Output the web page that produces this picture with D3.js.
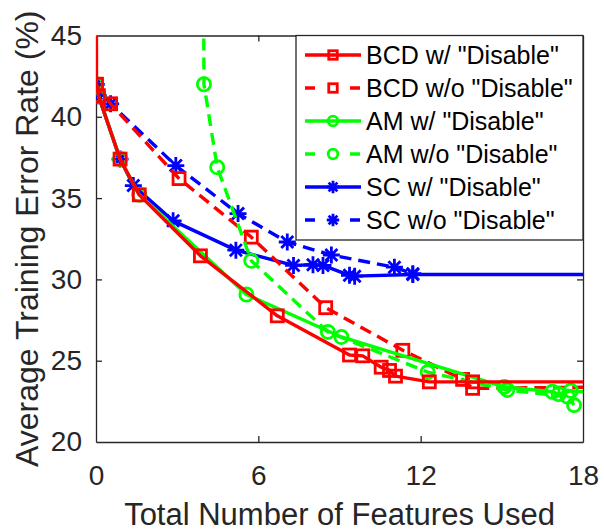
<!DOCTYPE html>
<html>
<head>
<meta charset="utf-8">
<script src="https://cdn.jsdelivr.net/npm/d3@7"></script>
<style>
  html, body { margin: 0; padding: 0; background: #fff; }
  svg { display: block; font-family: "Liberation Sans", Arial, Helvetica, sans-serif; }
</style>
</head>
<body>
<svg id="chart" width="604" height="531"></svg>
<script>
// Average training error rate vs. number of features used
const xTicks = [0, 6, 12, 18];
const yTicks = [20, 25, 30, 35, 40, 45];

// [features used, error rate %]
const bcdWith = [[0, 60], [0.02, 42.0], [0.09, 41.3], [0.89, 37.4], [1.6, 35.2], [3.86, 31.45],
  [6.7, 27.76], [9.37, 25.35], [9.86, 25.3], [10.54, 24.6], [10.85, 24.4], [11.07, 24.05],
  [12.32, 23.7], [13.92, 23.7], [20, 23.7]];
const bcdWithout = [[0, 42.0], [0.54, 40.8], [3.07, 36.2], [5.74, 32.6], [8.49, 28.26],
  [11.34, 25.64], [13.55, 23.85], [13.92, 23.3], [20, 23.4]];
const amWith = [[0, 42.0], [0.09, 41.3], [0.89, 37.4], [1.6, 35.2], [5.56, 29.07], [9.07, 26.46],
  [15.09, 23.39], [16.87, 23.09], [17.1, 22.95], [17.55, 23.15], [20, 22.8]];
const amWithout = [[3.95, 60], [3.99, 42.0], [4.48, 36.9], [5.74, 31.15], [8.57, 26.77],
  [12.26, 24.3], [15.2, 23.2], [17.43, 22.8], [17.67, 22.27]];
const scWith = [[0, 42.0], [0.09, 41.3], [0.89, 37.4], [1.38, 35.77], [2.85, 33.6], [5.17, 31.8],
  [7.3, 30.86], [8.02, 30.9], [8.39, 30.86], [9.37, 30.25], [9.56, 30.2], [11.71, 30.3], [20, 30.3]];
const scWithout = [[0, 42.0], [0.54, 40.8], [2.95, 37.0], [5.25, 34.05], [7.07, 32.3], [8.7, 31.5],
  [11.03, 30.75], [11.71, 30.35]];

const seriesNames = ['BCD w/ "Disable"', 'BCD w/o "Disable"', 'AM w/ "Disable"',
  'AM w/o "Disable"', 'SC w/ "Disable"', 'SC w/o "Disable"'];
const seriesData = [bcdWith, bcdWithout, amWith, amWithout, scWith, scWithout];
const seriesColors = ["#ff0000", "#ff0000", "#00ff00", "#00ff00", "#0000ff", "#0000ff"];
const seriesMarkers = ["square", "square", "circle", "circle", "star", "star"];
const seriesDashed = [false, true, false, true, false, true];
// back-to-front drawing order
const drawOrder = [5, 4, 1, 3, 2, 0];

const svg = d3.select("#chart");
const W = 604, H = 531;
const margin = { left: 96, top: 35.5, right: 21, bottom: 89 };
const x = d3.scaleLinear().domain([0, 18]).range([margin.left, W - margin.right]);
const y = d3.scaleLinear().domain([20, 45]).range([H - margin.bottom, margin.top]);
const axisColor = "#262626";

svg.append("defs").append("clipPath").attr("id", "plotClip")
  .append("rect")
  .attr("x", x(0)).attr("y", y(45))
  .attr("width", x(18) - x(0)).attr("height", y(20) - y(45));

// axes with inward ticks on all four sides
const tickLen = 6;
const gx = svg.append("g").attr("transform", `translate(0,${y(20)})`)
  .call(d3.axisBottom(x).tickValues(xTicks).tickSizeInner(-tickLen).tickSizeOuter(0).tickPadding(23));
const gxTop = svg.append("g").attr("transform", `translate(0,${y(45)})`)
  .call(d3.axisTop(x).tickValues(xTicks).tickSizeInner(-tickLen).tickSizeOuter(0).tickFormat(""));
const gy = svg.append("g").attr("transform", `translate(${x(0)},0)`)
  .call(d3.axisLeft(y).tickValues(yTicks).tickSizeInner(-tickLen).tickSizeOuter(0).tickPadding(14));
const gyRight = svg.append("g").attr("transform", `translate(${x(18)},0)`)
  .call(d3.axisRight(y).tickValues(yTicks).tickSizeInner(-tickLen).tickSizeOuter(0).tickFormat(""));

[gx, gxTop, gy, gyRight].forEach(g => {
  g.select(".domain").attr("stroke", axisColor).attr("stroke-width", 1.3);
  g.selectAll(".tick line").attr("stroke", axisColor).attr("stroke-width", 1.3);
  g.selectAll(".tick text").attr("fill", axisColor)
    .attr("font-size", 28).attr("font-family", "Liberation Sans, Arial, sans-serif");
});
gx.selectAll(".tick line").filter(d => d === 0 || d === 18).remove();
gxTop.selectAll(".tick line").filter(d => d === 0 || d === 18).remove();
gy.selectAll(".tick line").filter(d => d === 20 || d === 45).remove();
gyRight.selectAll(".tick line").filter(d => d === 20 || d === 45).remove();

// axis titles
svg.append("text")
  .attr("x", (x(0) + x(18)) / 2).attr("y", 525)
  .attr("text-anchor", "middle").attr("font-size", 31).attr("fill", axisColor)
  .text("Total Number of Features Used");
svg.append("text")
  .attr("transform", `translate(38,${(y(20) + y(45)) / 2}) rotate(-90)`)
  .attr("text-anchor", "middle").attr("font-size", 32).attr("fill", axisColor)
  .text("Average Training Error Rate (%)");

// marker drawing
function drawMarker(g, type, cx, cy, color, s) {
  if (type === "square") {
    g.append("rect").attr("x", cx - s.sq / 2).attr("y", cy - s.sq / 2)
      .attr("width", s.sq).attr("height", s.sq)
      .attr("fill", "none").attr("stroke", color).attr("stroke-width", 2.8);
  } else if (type === "circle") {
    g.append("circle").attr("cx", cx).attr("cy", cy).attr("r", s.r)
      .attr("fill", "none").attr("stroke", color).attr("stroke-width", 2.8);
  } else {
    const r = s.st, d = r * Math.SQRT1_2;
    const p = `M${cx - r},${cy}L${cx + r},${cy}M${cx},${cy - r}L${cx},${cy + r}` +
      `M${cx - d},${cy - d}L${cx + d},${cy + d}M${cx - d},${cy + d}L${cx + d},${cy - d}`;
    g.append("path").attr("d", p).attr("stroke", color).attr("stroke-width", 2.8).attr("fill", "none");
  }
}

const plot = svg.append("g").attr("clip-path", "url(#plotClip)");
const line = d3.line().x(d => x(d[0])).y(d => y(d[1]));
const plotSizes = { sq: 12, r: 6.6, st: 8.5 };

drawOrder.forEach(i => {
  const g = plot.append("g");
  g.append("path").datum(seriesData[i])
    .attr("d", line)
    .attr("fill", "none")
    .attr("stroke", seriesColors[i])
    .attr("stroke-width", 3.4)
    .attr("stroke-linejoin", "round")
    .attr("stroke-dasharray", seriesDashed[i] ? "12,7" : null);
  seriesData[i].forEach(d => drawMarker(g, seriesMarkers[i], x(d[0]), y(d[1]), seriesColors[i], plotSizes));
});

// legend
const leg = svg.append("g");
leg.append("rect")
  .attr("x", 296).attr("y", y(45))
  .attr("width", x(18) - 296).attr("height", 240 - y(45))
  .attr("fill", "#fff").attr("stroke", axisColor).attr("stroke-width", 1.3);
const legSizes = { sq: 8.5, r: 4.8, st: 6.2 };
seriesNames.forEach((name, i) => {
  const cy = 55 + i * 33;
  leg.append("line")
    .attr("x1", 305).attr("x2", 361).attr("y1", cy).attr("y2", cy)
    .attr("stroke", seriesColors[i]).attr("stroke-width", 3.4)
    .attr("stroke-dasharray", seriesDashed[i] ? "10,35" : null);
  drawMarker(leg, seriesMarkers[i], 333, cy, seriesColors[i], legSizes);
  leg.append("text")
    .attr("x", 366).attr("y", cy + 9)
    .attr("font-size", 25).attr("fill", "#000")
    .text(name);
});
</script>
</body>
</html>
